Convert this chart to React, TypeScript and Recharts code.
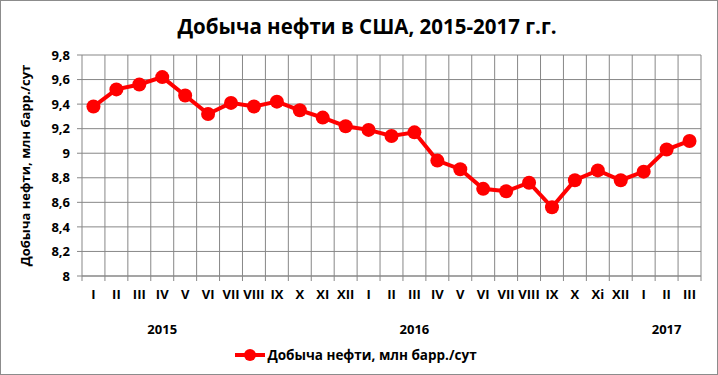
import {
  LineChart,
  Line,
  XAxis,
  YAxis,
  CartesianGrid,
  Legend,
} from "recharts";

const months = [
  "I", "II", "III", "IV", "V", "VI", "VII", "VIII", "IX", "X", "XI", "XII",
  "I", "II", "III", "IV", "V", "VI", "VII", "VIII", "IX", "X", "Xi", "XII",
  "I", "II", "III",
];
const years = [
  "", "", "", "2015", "", "", "", "", "", "", "", "",
  "", "", "2016", "", "", "", "", "", "", "", "", "",
  "", "2017", "",
];
const production = [
  9.38, 9.52, 9.56, 9.62, 9.47, 9.32, 9.41, 9.38, 9.42, 9.35, 9.29, 9.22,
  9.19, 9.14, 9.17, 8.94, 8.87, 8.71, 8.69, 8.76, 8.56, 8.78, 8.86, 8.78,
  8.85, 9.03, 9.1,
];
const yTicks = [8, 8.2, 8.4, 8.6, 8.8, 9, 9.2, 9.4, 9.6, 9.8];

const SERIES = "Добыча нефти, млн барр./сут";
const FONT = "'Open Sans', 'DejaVu Sans', sans-serif";
const GRID = "#878787";

const data = production.map((v, i) => ({
  idx: i,
  month: months[i],
  year: years[i],
  value: v,
}));

const W = 718;
const H = 375;
const MARGIN = { top: 54, right: 16, bottom: 6, left: 0 };
const Y_W = 81;
const STEP = (W - 2 - MARGIN.right - Y_W) / months.length;

// tick marks sit between categories, like the original
function MonthTick(props: any) {
  const { x, y, payload, index } = props;
  const left = x - STEP / 2;
  return (
    <g>
      <line x1={left} x2={left} y1={y - 8} y2={y - 3} stroke={GRID} />
      {index === months.length - 1 && (
        <line x1={x + STEP / 2} x2={x + STEP / 2} y1={y - 8} y2={y - 3} stroke={GRID} />
      )}
      <text
        x={x}
        y={y + 15}
        textAnchor="middle"
        fontFamily={FONT}
        fontWeight={700}
        fontSize={13}
        fill="#000"
      >
        {payload.value}
      </text>
    </g>
  );
}

function LegendContent() {
  return (
    <div
      style={{
        display: "flex",
        justifyContent: "center",
        alignItems: "center",
        gap: 2,
        marginLeft: 10,
      }}
    >
      <svg width={30} height={14}>
        <line x1={0} x2={30} y1={7} y2={7} stroke="#ff0000" strokeWidth={4} />
        <circle cx={15} cy={7} r={6} fill="#ff0000" />
      </svg>
      <span
        style={{
          color: "#000",
          fontFamily: FONT,
          fontWeight: 700,
          fontSize: 13.5,
        }}
      >
        {SERIES}
      </span>
    </div>
  );
}

export default function App() {
  return (
    <div
      style={{
        position: "absolute",
        left: 0,
        top: 0,
        width: W,
        height: H,
        background: "#fff",
        boxSizing: "border-box",
        border: "1px solid #8c8c8c",
      }}
    >
      <div
        style={{
          position: "absolute",
          top: 11,
          left: 8,
          width: "100%",
          textAlign: "center",
          fontFamily: FONT,
          fontWeight: 700,
          fontSize: 20.5,
          color: "#000",
        }}
      >
        Добыча нефти в США, 2015-2017 г.г.
      </div>
      <LineChart
        width={W - 2}
        height={H - 2}
        data={data}
        margin={MARGIN}
        style={{ position: "absolute", left: 0, top: 0 }}
      >
        <CartesianGrid
          stroke={GRID}
          strokeWidth={1}
          verticalCoordinatesGenerator={({ offset }: any) =>
            months.map((_, i) => offset.left + ((i + 1) * offset.width) / months.length)
          }
        />
        <XAxis
          dataKey="idx"
          interval={0}
          height={30}
          padding={{ left: STEP / 2, right: STEP / 2 }}
          tickLine={false}
          axisLine={{ stroke: GRID }}
          tick={(p: any) => (
            <MonthTick {...p} payload={{ value: months[p.payload.value] }} />
          )}
        />
        <XAxis
          xAxisId="year"
          dataKey="idx"
          interval={0}
          height={40}
          padding={{ left: STEP / 2, right: STEP / 2 }}
          tickLine={false}
          axisLine={false}
          tickFormatter={(i: number) => years[i]}
          tick={{
            fontFamily: FONT,
            fontWeight: 700,
            fontSize: 13,
            fill: "#000",
          }}
          tickMargin={13}
        />
        <YAxis
          domain={[8, 9.8]}
          ticks={yTicks}
          interval={0}
          width={Y_W}
          axisLine={{ stroke: GRID }}
          tickLine={{ stroke: GRID }}
          tickSize={5}
          tickMargin={7}
          tickFormatter={(v: number) => String(v).replace(".", ",")}
          tick={{
            fontFamily: FONT,
            fontWeight: 700,
            fontSize: 13,
            fill: "#000",
          }}
          label={{
            value: SERIES,
            angle: -90,
            position: "insideLeft",
            offset: 24,
            style: {
              textAnchor: "middle",
              fontFamily: FONT,
              fontWeight: 700,
              fontSize: 13,
              fill: "#000",
            },
          }}
        />
        <Legend verticalAlign="bottom" height={22} content={<LegendContent />} />
        <Line
          name={SERIES}
          dataKey="value"
          stroke="#ff0000"
          strokeWidth={4}
          dot={{ r: 7, fill: "#ff0000", stroke: "#ff0000", strokeWidth: 0 }}
          activeDot={false}
          isAnimationActive={false}
        />
      </LineChart>
    </div>
  );
}
